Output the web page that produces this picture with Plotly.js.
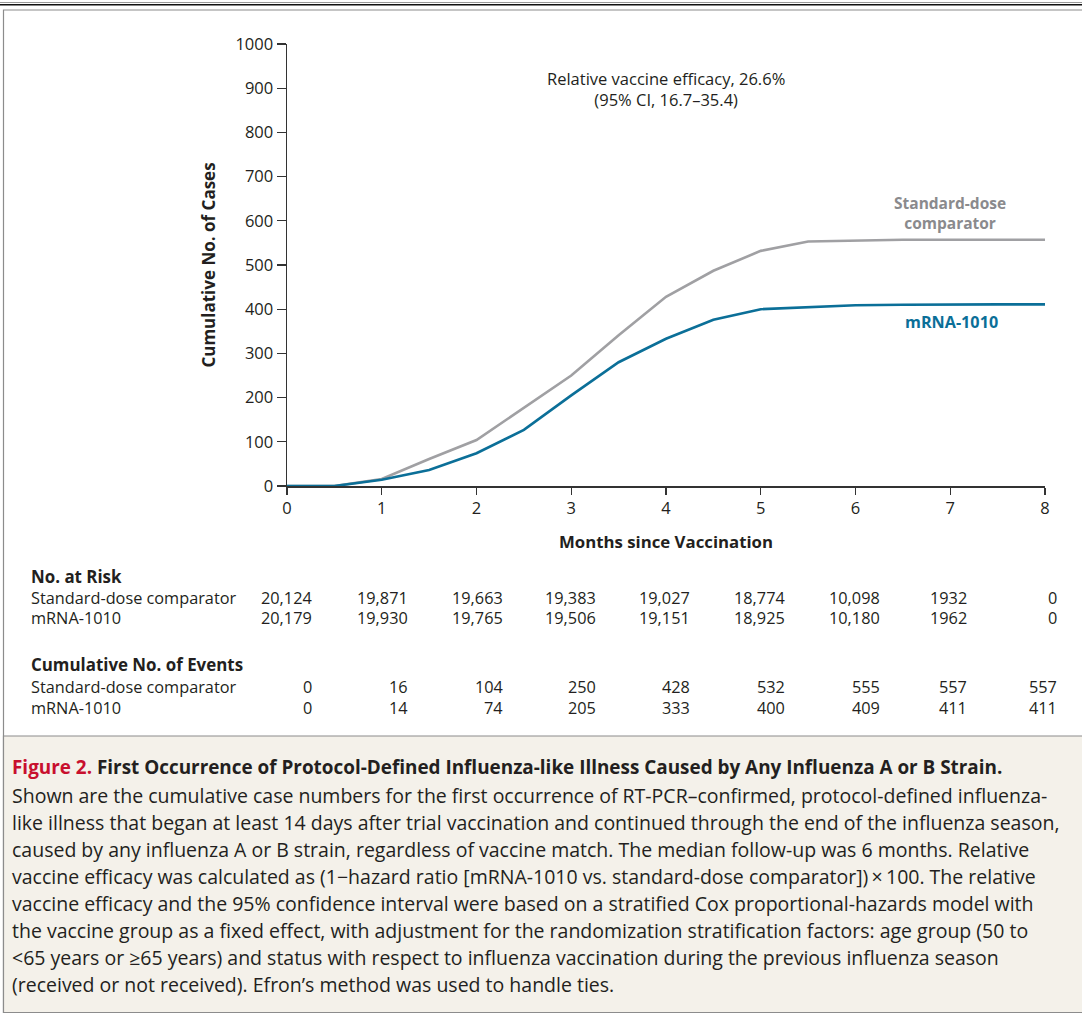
<!DOCTYPE html>
<html>
<head>
<meta charset="utf-8">
<script src="https://cdn.plot.ly/plotly-3.0.1.min.js"></script>
<style>
  html, body { margin: 0; padding: 0; background: #ffffff; }
  #chart { width: 1082px; height: 1014px; }
</style>
</head>
<body>
<div id="chart"></div>
<script>
// ---------- data ----------
const months = [0, 0.5, 1, 1.5, 2, 2.5, 3, 3.5, 4, 4.5, 5, 5.5, 6, 6.5, 7, 7.5, 8];
const comparatorCases = [0, 0, 16, 61, 104, 177, 250, 341, 428, 487, 532, 553, 555, 557, 557, 557, 557];
const mrnaCases = [0, 0, 14, 36, 74, 127, 205, 280, 333, 376, 400, 405, 409, 410, 411, 411, 411];

const tableMonths = [0, 1, 2, 3, 4, 5, 6, 7, 8];
const riskComparator = [20124, 19871, 19663, 19383, 19027, 18774, 10098, 1932, 0];
const riskMrna = [20179, 19930, 19765, 19506, 19151, 18925, 10180, 1962, 0];
const eventsComparator = [0, 16, 104, 250, 428, 532, 555, 557, 557];
const eventsMrna = [0, 14, 74, 205, 333, 400, 409, 411, 411];

const xTicks = [0, 1, 2, 3, 4, 5, 6, 7, 8];
const yTicks = [0, 100, 200, 300, 400, 500, 600, 700, 800, 900, 1000];

const captionTitle = "First Occurrence of Protocol-Defined Influenza-like Illness Caused by Any Influenza A or B Strain.";
const captionLines = [
  "Shown are the cumulative case numbers for the first occurrence of RT-PCR–confirmed, protocol-defined influenza-",
  "like illness that began at least 14 days after trial vaccination and continued through the end of the influenza season,",
  "caused by any influenza A or B strain, regardless of vaccine match. The median follow-up was 6 months. Relative",
  "vaccine efficacy was calculated as (1−hazard ratio [mRNA-1010 vs. standard-dose comparator])\u2009×\u2009100. The relative",
  "vaccine efficacy and the 95% confidence interval were based on a stratified Cox proportional-hazards model with",
  "the vaccine group as a fixed effect, with adjustment for the randomization stratification factors: age group (50 to",
  "<65 years or ≥65 years) and status with respect to influenza vaccination during the previous influenza season",
  "(received or not received). Efron’s method was used to handle ties."
];

// ---------- layout helpers ----------
const W = 1082, H = 1014;
const PL = 287, PR = 1045, PT = 44, PB = 486;
const px = p => (p - PL) / (PR - PL);
const py = p => (PB - p) / (PB - PT);

const FONT = "Open Sans, Noto Sans, sans-serif";
const CAPFONT = "Open Sans, Noto Sans, sans-serif";
const INK = "#231f20";
const GRAY_LINE = "#a0a0a3";
const GRAY_TEXT = "#8a8a8d";
const BLUE = "#0b6f98";

const fmt = n => n >= 10000 ? n.toLocaleString("en-US") : String(n);

const colRight = [314, 410, 505, 598, 692, 787, 882, 969, 1059];

const annotations = [];
function addText(text, x, y, opts) {
  annotations.push(Object.assign({
    text: text, xref: "paper", yref: "paper", x: px(x), y: py(y),
    showarrow: false, xanchor: "left", yanchor: "middle",
    font: { family: FONT, size: 16.3, color: INK }
  }, opts || {}));
}

// in-plot annotations
addText("Relative vaccine efficacy, 26.6%<br>(95% CI, 16.7–35.4)", 666, 89,
  { xanchor: "center", font: { family: FONT, size: 16.5, color: INK } });
addText("<b>Standard-dose<br>comparator</b>", 950, 213,
  { xanchor: "center", font: { family: FONT, size: 15.5, color: GRAY_TEXT } });
addText("<b>mRNA-1010</b>", 951, 322,
  { xanchor: "center", font: { family: FONT, size: 16.2, color: BLUE } });

// number-at-risk table
addText("<b>No. at Risk</b>", 29, 576, { font: { family: FONT, size: 16.9, color: INK } });
addText("Standard-dose comparator", 29, 598);
addText("mRNA-1010", 29, 618);
addText("<b>Cumulative No. of Events</b>", 29, 664, { font: { family: FONT, size: 16.9, color: INK } });
addText("Standard-dose comparator", 29, 687);
addText("mRNA-1010", 29, 708);
tableMonths.forEach((m, i) => {
  const xr = colRight[i];
  addText(fmt(riskComparator[i]), xr, 598, { xanchor: "right" });
  addText(fmt(riskMrna[i]), xr, 618, { xanchor: "right" });
  addText(fmt(eventsComparator[i]), xr, 687, { xanchor: "right" });
  addText(fmt(eventsMrna[i]), xr, 708, { xanchor: "right" });
});

// caption
addText("<span style='color:#c8102e'>Figure 2.</span> " + captionTitle, 10, 767,
  { font: { family: CAPFONT, size: 18.9, color: INK, weight: 700 } });
captionLines.forEach((line, i) => {
  addText(line, 10, 795 + i * 27.1, { font: { family: CAPFONT, size: 19.5, color: INK } });
});

const shapes = [
  // top rules
  { type: "line", xref: "paper", yref: "paper", x0: px(0), x1: px(W), y0: py(2.5), y1: py(2.5),
    line: { color: "#9a9a9a", width: 1 } },
  { type: "line", xref: "paper", yref: "paper", x0: px(0), x1: px(W), y0: py(4.8), y1: py(4.8),
    line: { color: "#111111", width: 1.6 } },
  // outer frame
  { type: "rect", xref: "paper", yref: "paper", x0: px(3.5), x1: px(W + 5), y0: py(10), y1: py(1012.5),
    line: { color: "#8c8c8c", width: 1.2 }, fillcolor: "rgba(0,0,0,0)", layer: "below" },
  // caption background
  { type: "rect", xref: "paper", yref: "paper", x0: px(3.5), x1: px(W + 5), y0: py(736), y1: py(1012.5),
    line: { color: "#8c8c8c", width: 1.2 }, fillcolor: "#f4f1ea", layer: "below" }
];

const traces = [
  { x: months, y: comparatorCases, type: "scatter", mode: "lines", name: "Standard-dose comparator",
    line: { color: GRAY_LINE, width: 2.6 }, hoverinfo: "skip" },
  { x: months, y: mrnaCases, type: "scatter", mode: "lines", name: "mRNA-1010",
    line: { color: BLUE, width: 2.6 }, hoverinfo: "skip" }
];

const layout = {
  width: W, height: H,
  margin: { l: PL, r: W - PR, t: PT, b: H - PB, pad: 0 },
  paper_bgcolor: "#ffffff", plot_bgcolor: "rgba(0,0,0,0)",
  showlegend: false,
  font: { family: FONT, color: INK },
  xaxis: {
    range: [0, 8], tickvals: xTicks, ticktext: xTicks.map(String),
    showgrid: false, zeroline: false, showline: true, linecolor: "#333333", linewidth: 1.5,
    ticks: "outside", ticklen: 7, tickwidth: 1.3, tickcolor: "#333333",
    tickfont: { family: FONT, size: 16.5, color: INK },
    title: { text: "<b>Months since Vaccination</b>", font: { family: FONT, size: 16.8, color: INK }, standoff: 18 },
    fixedrange: true
  },
  yaxis: {
    range: [0, 1000], tickvals: yTicks, ticktext: yTicks.map(String),
    showgrid: false, zeroline: false, showline: true, linecolor: "#333333", linewidth: 1.5,
    ticks: "outside", ticklen: 9, tickwidth: 1.3, tickcolor: "#333333",
    tickfont: { family: FONT, size: 16.5, color: INK },
    title: { text: "<b>Cumulative No. of Cases</b>", font: { family: FONT, size: 17, color: INK }, standoff: 15 },
    fixedrange: true
  },
  annotations: annotations,
  shapes: shapes
};

Plotly.newPlot("chart", traces, layout, { displayModeBar: false, staticPlot: true });
</script>
</body>
</html>
